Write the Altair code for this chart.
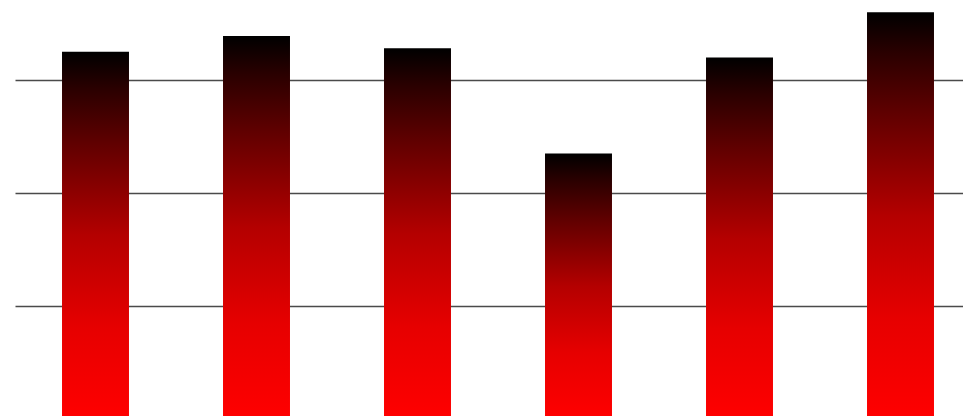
import altair as alt
import pandas as pd

categories = ["A", "B", "C", "D", "E", "F"]
values = [325, 339, 328, 235, 320, 360]
grid_values = [100, 200, 300]

df = pd.DataFrame({"cat": categories, "val": values})

grad = alt.Gradient(
    gradient="linear",
    stops=[alt.GradientStop(color="#000000", offset=0),
           alt.GradientStop(color="#2a0000", offset=0.1),
           alt.GradientStop(color="#600000", offset=0.25),
           alt.GradientStop(color="#b40000", offset=0.5),
           alt.GradientStop(color="#e60000", offset=0.75),
           alt.GradientStop(color="#ff0000", offset=1)],
    x1=1, x2=1, y1=0, y2=1,
)

chart = alt.Chart(df).mark_bar(color=grad).encode(
    x=alt.X("cat:N", axis=None, sort=categories,
            scale=alt.Scale(paddingInner=0.584, paddingOuter=0.292, range=[0, 966])),
    y=alt.Y("val:Q", scale=alt.Scale(domain=[2.65, 370.8], zero=False, nice=False),
            axis=alt.Axis(values=grid_values, domain=False, ticks=False, labels=False,
                          title=None, grid=True, gridColor="#4a4a4a", gridWidth=1.5)),
    y2=alt.datum(0),
).properties(
    width=948, height=416,
    autosize=alt.AutoSizeParams(type="none"),
    padding={"left": 15, "top": 0, "right": 0, "bottom": 0},
).configure_view(stroke=None)

chart.save("out.html", embed_options={"renderer": "svg", "actions": False})
